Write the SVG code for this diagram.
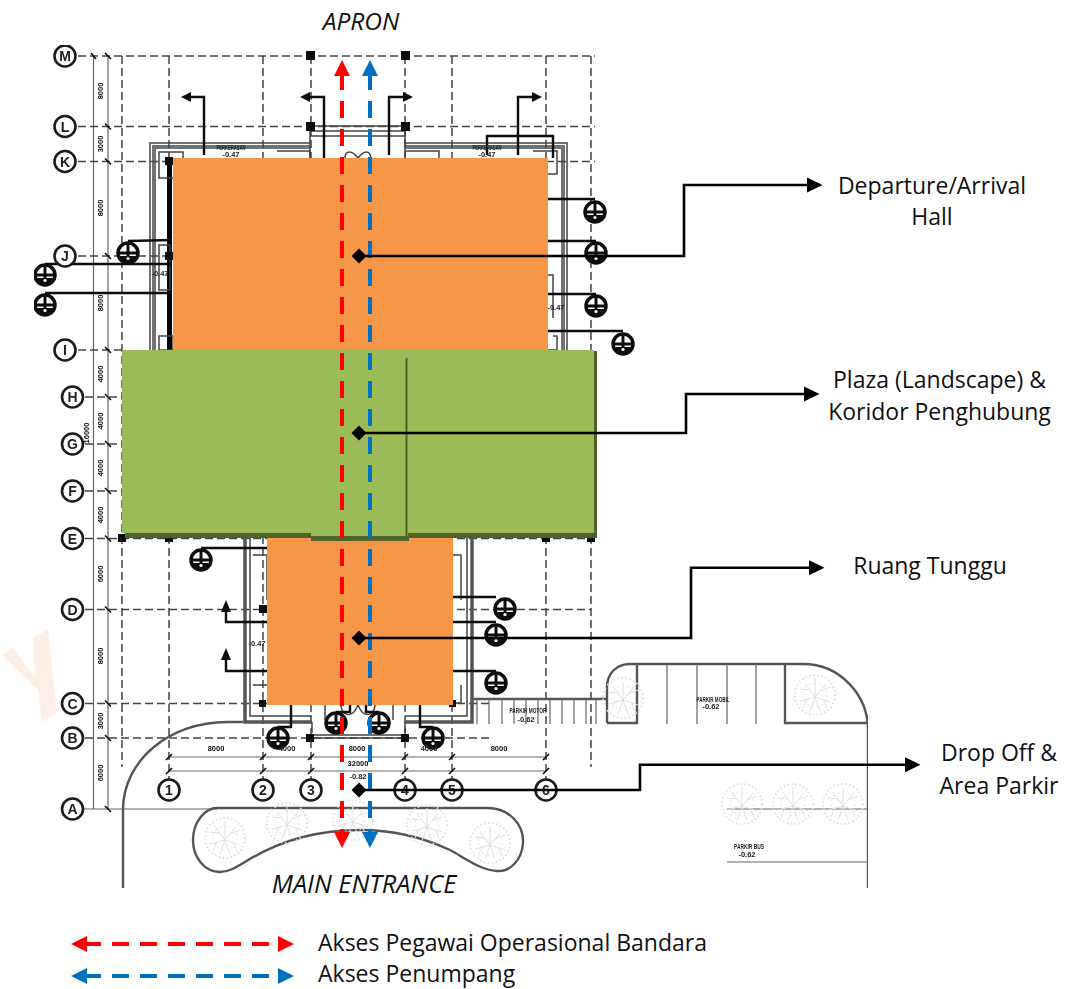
<svg xmlns="http://www.w3.org/2000/svg" width="1088" height="989" viewBox="0 0 1088 989">
<style>
.grid{fill:none;stroke:#444;stroke-width:1.5;stroke-dasharray:8 4}
.thin{fill:none;stroke:#666;stroke-width:1.2}
.wall{fill:none;stroke:#444;stroke-width:1.5}
.wallb{fill:none;stroke:#555;stroke-width:3.5}
.lead{fill:none;stroke:#111;stroke-width:2.4}
.road{fill:none;stroke:#555;stroke-width:2.4}
.tree{fill:none;stroke:#e0e0e0;stroke-width:1}
.gc{fill:#fff;stroke:#1a1a1a;stroke-width:2.6}
.gt{font:bold 14px "Liberation Sans",sans-serif;fill:#222;text-anchor:middle}
.cad{font:bold 7.500px "Liberation Sans",sans-serif;fill:#222;text-anchor:middle}
.dim{font:bold 7.500px "Liberation Sans",sans-serif;fill:#111;text-anchor:middle}
.lbl{font:23px "Open Sans",sans-serif;fill:#111;text-anchor:middle}
.it{font:italic 24.500px "Open Sans",sans-serif;fill:#111;text-anchor:middle}
.conn{fill:none;stroke:#000;stroke-width:2.6}
.red{fill:none;stroke:#f00;stroke-width:4;stroke-dasharray:17 11}
.blue{fill:none;stroke:#0070c0;stroke-width:4;stroke-dasharray:17 11}
</style>
<defs>
<filter id="soft" x="0" y="0" width="1" height="1"><feGaussianBlur stdDeviation="0.4"/></filter>
<marker id="ah" markerUnits="userSpaceOnUse" markerWidth="16" markerHeight="16" refX="0" refY="8" orient="auto"><path d="M0 0.500L15.500 8L0 15.500Z" fill="#000"/></marker>
<marker id="ar" markerUnits="userSpaceOnUse" markerWidth="16" markerHeight="16" refX="0" refY="8" orient="auto-start-reverse"><path d="M0 0L16 8L0 16Z" fill="#f00"/></marker>
<marker id="ab" markerUnits="userSpaceOnUse" markerWidth="16" markerHeight="16" refX="0" refY="8" orient="auto-start-reverse"><path d="M0 0L16 8L0 16Z" fill="#0070c0"/></marker>
<g id="sec"><circle r="10" fill="#fff" stroke="#111" stroke-width="3.500"/><path d="M-11 0H11M0 -11V4" stroke="#111" stroke-width="3" fill="none"/><path d="M-8.500 3H8.500L4.500 10H-4.500Z" fill="#111"/><circle cy="5.500" r="1.600" fill="#fff"/></g>
<g id="tree" class="tree"><circle r="20" stroke-width="2" stroke-dasharray="1.500 2.500"/><circle r="12" stroke-dasharray="2 3"/><path d="M0 2L-10 -12M-5 -5L-15 -6M0 2L11 -11M5 -4L15 -8M0 2V-17M0 2L-15 6M-8 4L-12 13M0 2L15 7M8 4L12 13M0 2L-5 16M0 2L5 16"/></g>
</defs>
<rect width="1088" height="989" fill="#fff"/>
<path id="watermark" d="M2 655L13 648L35 678L33 637L48 630L57 713L42 722L38 690Z" fill="#feefe6"/>
<g id="plan" filter="url(#soft)">
<path class="thin" d="M93.500 56V809M108 56V809M169 757H546M169 771H546M77 809H217"/>
<path class="grid" d="M78 56H595M78 126.500H595M78 161.500H595M78 256H172M548 256H595M78 350H122M85 397H122M85 444H122M85 491H122M85 538.500H595M85 609.500H591M85 703.500H490M85 738H493"/>
<path class="grid" d="M122 56V767M169 56V790M263 56V790M311 56V790M405 56V790M452 56V790M546 56V790M591 56V767"/>
<path d="M91 53L96 59M105 53L111 59M105 123.500L111 129.500M105 158.500L111 164.500M105 253L111 259M105 347L111 353M105 394L111 400M105 441L111 447M105 488L111 494M105 535.500L111 541.500M105 606.500L111 612.500M105 700.500L111 706.500M105 735L111 741M105 806L111 812M166 760L172 754M260 760L266 754M308 760L314 754M402 760L408 754M449 760L455 754M543 760L549 754M166 774L172 768M260 774L266 768M308 774L314 768M402 774L408 768M449 774L455 768M543 774L549 768" stroke="#111" stroke-width="1.600" fill="none"/>
<path class="wall" d="M310 143H150V350M153 350V146H310M155 350V148H310M405 143H567V350M405 146H564V350M405 148H562V350"/>
<path class="wallb" d="M245 538V722H312M472 538V722H405"/>
<path class="wall" d="M250 538V716H312M467 538V716H405M312 722V733M405 722V733M312 735H405M312 738H405M310 126H405M310 131H405M310 136H405M310 126V158M405 126V158"/>
<path d="M169.500 161V350" stroke="#000" stroke-width="5" fill="none"/>
<path class="wall" d="M159 152H183V178H159ZM159 245H170V290H159ZM159 336H173V350H159ZM277 151H310V158M405 151H439V158M533 151H557V174H548M548 275H553V318M553 336H557V350H548M253 555H267V600M453 555H461V600M253 685H320V703M393 703H461V685"/>
<path class="wall" d="M345 158C345 150 352 150 358 158C364 150 370 150 371 158M325 705V720M393 705V720M341 705C341 715 352 720 358 705C364 720 375 715 375 705"/>
<g fill="#111">
<rect x="306" y="51" width="9" height="9"/><rect x="401" y="51" width="9" height="9"/><rect x="306" y="122" width="9" height="9"/><rect x="401" y="122" width="9" height="9"/><rect x="165" y="157" width="8" height="8"/><rect x="165" y="252" width="8" height="8"/><rect x="118" y="534" width="8" height="8"/><rect x="165" y="534" width="8" height="8"/><rect x="259" y="605" width="8" height="8"/><rect x="259" y="700" width="7" height="7"/><rect x="306" y="734" width="8" height="8"/><rect x="401" y="734" width="8" height="8"/><rect x="449" y="700" width="7" height="7"/><rect x="542" y="534" width="8" height="8"/><rect x="587" y="534" width="8" height="8"/>
</g>
<g class="lead">
<path d="M188 97H204V155M307 97H324V158M389 155V97H406M518 155V97H535M487 155V136H553V158"/>
<path d="M128 241L172 240M45 264H172M45 293H172M548 199H595M548 241H596M548 294H596M548 331H623M201 548H267M496 597H453M496 622H453M496 671H453M226 605V622H267M226 655V671H267M336 712H350V705M379 712H366V705M278 727H291V705M433 727H420V705"/>
</g>
<g fill="#111"><path d="M181 97L191 92V102Z"/><path d="M300 97L310 92V102Z"/><path d="M413 97L403 92V102Z"/><path d="M542 97L532 92V102Z"/><path d="M226 600L221 612H231Z"/><path d="M226 648L221 660H231Z"/></g>
<use href="#sec" x="128" y="253"/><use href="#sec" x="45" y="275"/><use href="#sec" x="45" y="305"/><use href="#sec" x="595" y="212"/><use href="#sec" x="596" y="253"/><use href="#sec" x="596" y="306"/><use href="#sec" x="623" y="344"/><use href="#sec" x="201" y="560"/><use href="#sec" x="505" y="609"/><use href="#sec" x="496" y="635"/><use href="#sec" x="496" y="683"/><use href="#sec" x="336" y="723"/><use href="#sec" x="379" y="723"/><use href="#sec" x="278" y="738"/><use href="#sec" x="433" y="738"/>
<g id="grid-bubbles">
<circle class="gc" cx="65" cy="56" r="10.500"/><text class="gt" x="65" y="61">M</text>
<circle class="gc" cx="65" cy="126.500" r="10.500"/><text class="gt" x="65" y="131.500">L</text>
<circle class="gc" cx="65" cy="161.500" r="10.500"/><text class="gt" x="65" y="166.500">K</text>
<circle class="gc" cx="65" cy="256" r="10.500"/><text class="gt" x="65" y="261">J</text>
<circle class="gc" cx="65" cy="350" r="10.500"/><text class="gt" x="65" y="355">I</text>
<circle class="gc" cx="72.500" cy="397" r="10.500"/><text class="gt" x="72.500" y="402">H</text>
<circle class="gc" cx="72.500" cy="444" r="10.500"/><text class="gt" x="72.500" y="449">G</text>
<circle class="gc" cx="72.500" cy="491" r="10.500"/><text class="gt" x="72.500" y="496">F</text>
<circle class="gc" cx="72.500" cy="538.500" r="10.500"/><text class="gt" x="72.500" y="543.500">E</text>
<circle class="gc" cx="72.500" cy="609.500" r="10.500"/><text class="gt" x="72.500" y="614.500">D</text>
<circle class="gc" cx="72.500" cy="703.500" r="10.500"/><text class="gt" x="72.500" y="708.500">C</text>
<circle class="gc" cx="72.500" cy="738" r="10.500"/><text class="gt" x="72.500" y="743">B</text>
<circle class="gc" cx="72.500" cy="809" r="10.500"/><text class="gt" x="72.500" y="814">A</text>
<circle class="gc" cx="169" cy="790" r="10.500"/><text class="gt" x="169" y="795">1</text>
<circle class="gc" cx="263" cy="790" r="10.500"/><text class="gt" x="263" y="795">2</text>
<circle class="gc" cx="311" cy="790" r="10.500"/><text class="gt" x="311" y="795">3</text>
<circle class="gc" cx="405" cy="790" r="10.500"/><text class="gt" x="405" y="795">4</text>
<circle class="gc" cx="452" cy="790" r="10.500"/><text class="gt" x="452" y="795">5</text>
<circle class="gc" cx="546" cy="790" r="10.500"/><text class="gt" x="546" y="795">6</text>
</g>
<g id="dims">
<text class="dim" transform="translate(103,91) rotate(-90)">8000</text><text class="dim" transform="translate(103,144) rotate(-90)">3000</text><text class="dim" transform="translate(103,208) rotate(-90)">8000</text><text class="dim" transform="translate(103,303) rotate(-90)">8000</text><text class="dim" transform="translate(103,374) rotate(-90)">4000</text><text class="dim" transform="translate(103,421) rotate(-90)">4000</text><text class="dim" transform="translate(103,468) rotate(-90)">4000</text><text class="dim" transform="translate(103,515) rotate(-90)">4000</text><text class="dim" transform="translate(89,433) rotate(-90)">16000</text><text class="dim" transform="translate(103,574) rotate(-90)">6000</text><text class="dim" transform="translate(103,656) rotate(-90)">8000</text><text class="dim" transform="translate(103,721) rotate(-90)">3000</text><text class="dim" transform="translate(103,773) rotate(-90)">6000</text>
<text class="dim" x="216" y="751">8000</text><text class="dim" x="357" y="751">8000</text><text class="dim" x="499" y="751">8000</text><text class="dim" x="358" y="766">32000</text><text class="cad" x="287" y="751">4000</text><text class="cad" x="429" y="751">4000</text>
<text class="cad" x="231" y="150" textLength="29" lengthAdjust="spacingAndGlyphs">PERKERASAN</text><text class="cad" x="231" y="157">-0.47</text><text class="cad" x="487" y="150" textLength="29" lengthAdjust="spacingAndGlyphs">PERKERASAN</text><text class="cad" x="487" y="157">-0.47</text><text class="cad" x="160" y="276">-0.47</text><text class="cad" x="556" y="310">-0.47</text><text class="cad" x="257" y="646">-0.47</text><text class="cad" x="358" y="779">-0.82</text>
</g>
<g id="site">
<path class="road" d="M123 888V810C123 760 170 722 227 722H243"/>
<path class="road" d="M217 808H487C510 808 524 825 523 843C522 860 510 872 497 871C480 870 465 858 450 850C420 836 390 830 360 830C320 830 280 840 245 862C235 868 228 872 220 872C205 872 193 858 193 840C193 822 205 808 217 808Z"/>
<path class="road" d="M473 699H607M607 723V687C607 673 617 664 630 664H803C840 664 868 695 868 730V888M607 723H637V664M785 664V723H867"/>
<path class="thin" d="M667 664V724M697 664V724M727 664V724M756 664V724M727 809H868M727 862H868M477 699V724M489 699V724M502 699V724M514 699V724M526 699V724M538 699V724M550 699V724M562 699V724M574 699V724M586 699V724M596 699V724"/>
<use href="#tree" x="623" y="698"/><use href="#tree" x="815" y="695"/><use href="#tree" x="742" y="804"/><use href="#tree" x="793" y="804"/><use href="#tree" x="843" y="804"/><use href="#tree" x="225" y="838"/><use href="#tree" x="287" y="823"/><use href="#tree" x="353" y="820"/><use href="#tree" x="427" y="825"/><use href="#tree" x="490" y="843"/>
<text class="cad" x="528" y="713" textLength="37" lengthAdjust="spacingAndGlyphs">PARKIR MOTOR</text><text class="cad" x="526" y="722">-0.62</text><text class="cad" x="713" y="702" textLength="33" lengthAdjust="spacingAndGlyphs">PARKIR MOBIL</text><text class="cad" x="711" y="709">-0.62</text><text class="cad" x="749" y="849" textLength="30" lengthAdjust="spacingAndGlyphs">PARKIR BUS</text><text class="cad" x="747" y="857">-0.62</text>
</g>
</g>
<g id="node-hall"><rect x="173" y="158" width="375" height="192" fill="#f79646"/><text class="lbl" x="932" y="194">Departure/Arrival</text><text class="lbl" x="932" y="225">Hall</text></g>
<g id="node-ruang"><rect x="267" y="538" width="186" height="167" fill="#f79646"/><text class="lbl" x="930" y="574">Ruang Tunggu</text></g>
<g id="node-plaza">
<path d="M125 533H596V538H409V541H311V538H125Z" fill="#4f6228"/><rect x="594" y="351" width="3" height="187" fill="#4f6228"/>
<path d="M122 350H594V533H408V536H311V533H122Z" fill="#9bbb59"/><path d="M406.500 358V536" stroke="#4f6228" stroke-width="2" fill="none"/>
<text class="lbl" x="939.500" y="388">Plaza (Landscape) &amp;</text><text class="lbl" x="939.500" y="420">Koridor Penghubung</text></g>
<g id="node-parkir"><text class="lbl" x="999" y="761">Drop Off &amp;</text><text class="lbl" x="999" y="794">Area Parkir</text></g>
<g id="node-apron"><text class="it" x="361" y="30">APRON</text></g>
<g id="node-entrance"><text class="it" x="364" y="893" style="font-size:25.300px">MAIN ENTRANCE</text></g>
<g id="connectors">
<path class="red" stroke-dashoffset="14" d="M342 832V76" marker-start="url(#ar)" marker-end="url(#ar)"/>
<path class="blue" stroke-dashoffset="14" d="M370 832V76" marker-start="url(#ab)" marker-end="url(#ab)"/>
<path class="conn" marker-end="url(#ah)" d="M359 256H684V185H807"/>
<path class="conn" marker-end="url(#ah)" d="M359 433H686V394H804"/>
<path class="conn" marker-end="url(#ah)" d="M359 638H691V567.700H809"/>
<path class="conn" marker-end="url(#ah)" d="M359 790H640V764.700H905"/>
<g fill="#000"><path d="M359 248.500L366.500 256L359 263.500L351.500 256Z"/><path d="M359 425.500L366.500 433L359 440.500L351.500 433Z"/><path d="M359 630.500L366.500 638L359 645.500L351.500 638Z"/><path d="M359 782.500L366.500 790L359 797.500L351.500 790Z"/></g>
<path class="red" stroke-dasharray="16 12" stroke-dashoffset="3" d="M87 944H278" marker-start="url(#ar)" marker-end="url(#ar)"/>
<path class="blue" stroke-dasharray="16 12" stroke-dashoffset="3" d="M87 976H278" marker-start="url(#ab)" marker-end="url(#ab)"/>
</g>
<g id="legend"><text class="lbl" style="text-anchor:start" x="318" y="951">Akses Pegawai Operasional Bandara</text><text class="lbl" style="text-anchor:start" x="318" y="982">Akses Penumpang</text></g>
</svg>
